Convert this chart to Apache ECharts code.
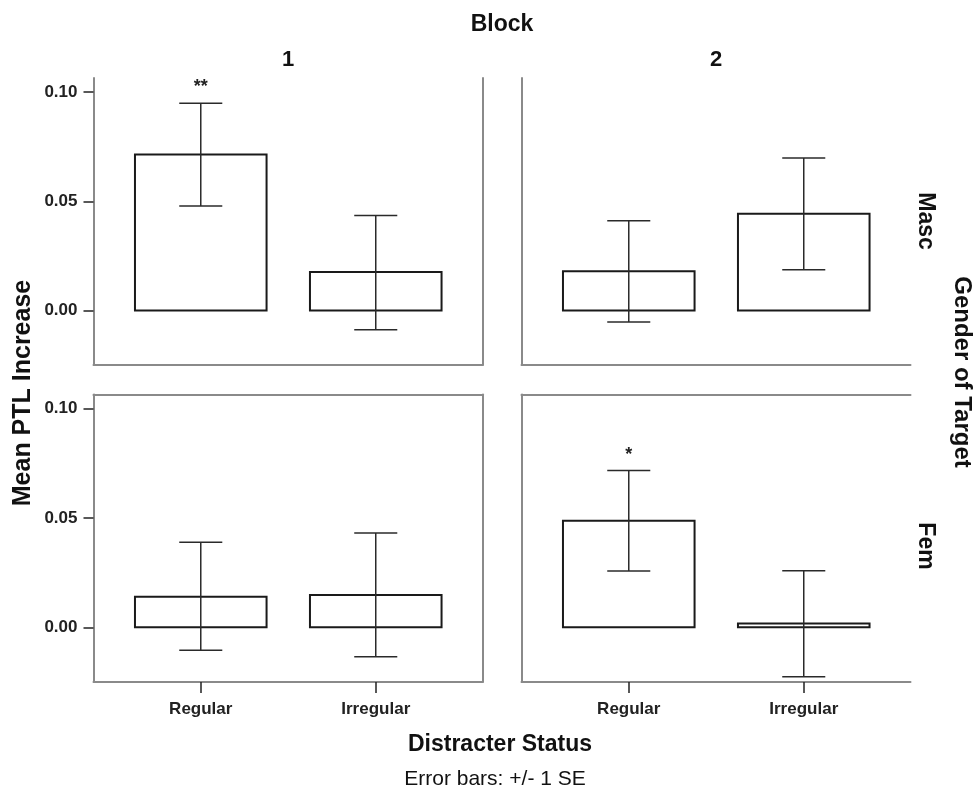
<!DOCTYPE html>
<html>
<head>
<meta charset="utf-8">
<script src="https://cdn.jsdelivr.net/npm/echarts@6/dist/echarts.min.js"></script>
<style>
html,body{margin:0;padding:0;background:#fff;}
#chart{width:977px;height:790px;}
</style>
</head>
<body>
<div id="chart"></div>
<script>
// ---- data ----
const categories = ['Regular', 'Irregular'];
const blocks = ['1', '2'];
const genders = ['Masc', 'Fem'];
const yTicks = [0, 0.05, 0.10];

const meanMascB1 = [0.0714, 0.0176];
const upperMascB1 = [0.0949, 0.0435];
const lowerMascB1 = [0.0478, -0.0088];
const sigMascB1 = ['**', ''];

const meanMascB2 = [0.0179, 0.0443];
const upperMascB2 = [0.0411, 0.0699];
const lowerMascB2 = [-0.0053, 0.0186];
const sigMascB2 = ['', ''];

const meanFemB1 = [0.0140, 0.0148];
const upperFemB1 = [0.0389, 0.0432];
const lowerFemB1 = [-0.0105, -0.0134];
const sigFemB1 = ['', ''];

const meanFemB2 = [0.0487, 0.0018];
const upperFemB2 = [0.0717, 0.0259];
const lowerFemB2 = [0.0258, -0.0226];
const sigFemB2 = ['*', ''];

// ---- layout / style ----
const FONT = "'Liberation Sans', Arial, sans-serif";
const AXIS_GREY = '#8a8a8a';
const X_MIN = -0.613, X_MAX = 1.61;
const Y_MIN = -0.025, Y_MAX = 0.1065;
const BAR_HALF = 0.376, CAP_HALF = 0.123;

const panels = [
  {mean: meanMascB1, up: upperMascB1, lo: lowerMascB1, sig: sigMascB1, grid: {left: 93.5, top: 78, width: 389, height: 287}, yLabels: true, xLabels: false, right: true, top: false},
  {mean: meanMascB2, up: upperMascB2, lo: lowerMascB2, sig: sigMascB2, grid: {left: 521.5, top: 78, width: 389, height: 287}, yLabels: false, xLabels: false, right: false, top: false},
  {mean: meanFemB1, up: upperFemB1, lo: lowerFemB1, sig: sigFemB1, grid: {left: 93.5, top: 394.5, width: 389, height: 287.5}, yLabels: true, xLabels: true, right: true, top: true},
  {mean: meanFemB2, up: upperFemB2, lo: lowerFemB2, sig: sigFemB2, grid: {left: 521.5, top: 394.5, width: 389, height: 287.5}, yLabels: false, xLabels: true, right: false, top: true}
];

const grid = [], xAxis = [], yAxis = [], series = [];
const lineOnly = {onZero: false, lineStyle: {color: AXIS_GREY, width: 2}};

panels.forEach((p, gi) => {
  grid.push(Object.assign({containLabel: false}, p.grid));
  const xi = xAxis.length;
  xAxis.push({
    type: 'value', gridIndex: gi, min: X_MIN, max: X_MAX, position: 'bottom',
    axisLine: {show: true, onZero: false, lineStyle: {color: AXIS_GREY, width: 2}},
    axisTick: {show: p.xLabels, customValues: [0, 1], length: 11, lineStyle: {color: '#222', width: 1.5}},
    axisLabel: {show: p.xLabels, customValues: [0, 1], margin: 19,
      formatter: v => categories[Math.round(v)] || '',
      fontFamily: FONT, fontWeight: 'bold', fontSize: 17, color: '#222'},
    splitLine: {show: false}
  });
  const yi = yAxis.length;
  yAxis.push({
    type: 'value', gridIndex: gi, min: Y_MIN, max: Y_MAX, position: 'left',
    axisLine: {show: true, onZero: false, lineStyle: {color: AXIS_GREY, width: 2}},
    axisTick: {show: p.yLabels, customValues: yTicks, length: 10, lineStyle: {color: '#222', width: 1.5}},
    axisLabel: {show: p.yLabels, customValues: yTicks, margin: 16,
      formatter: v => v.toFixed(2),
      fontFamily: FONT, fontWeight: 'bold', fontSize: 17, color: '#222'},
    splitLine: {show: false}
  });
  if (p.right) {
    yAxis.push({type: 'value', gridIndex: gi, min: Y_MIN, max: Y_MAX, position: 'right',
      axisLine: Object.assign({show: true}, lineOnly), axisTick: {show: false}, axisLabel: {show: false}, splitLine: {show: false}});
  }
  if (p.top) {
    xAxis.push({type: 'value', gridIndex: gi, min: X_MIN, max: X_MAX, position: 'top',
      axisLine: Object.assign({show: true}, lineOnly), axisTick: {show: false}, axisLabel: {show: false}, splitLine: {show: false}});
  }
  const data = categories.map((c, i) => [i, p.mean[i], p.lo[i], p.up[i]]);
  series.push({
    type: 'custom', xAxisIndex: xi, yAxisIndex: yi, data: data, silent: true,
    renderItem: (params, api) => {
      const x = api.value(0), m = api.value(1);
      const a = api.coord([x - BAR_HALF, m]);
      const b = api.coord([x + BAR_HALF, 0]);
      return {type: 'rect', shape: {x: a[0], y: Math.min(a[1], b[1]), width: b[0] - a[0], height: Math.max(1, Math.abs(b[1] - a[1]))},
        style: {fill: '#fff', stroke: '#1a1a1a', lineWidth: 2}};
    }
  });
  series.push({
    type: 'custom', xAxisIndex: xi, yAxisIndex: yi, data: data, silent: true,
    renderItem: (params, api) => {
      const x = api.value(0), lo = api.value(2), up = api.value(3);
      const sig = p.sig[params.dataIndex];
      const t = api.coord([x, up]), bt = api.coord([x, lo]);
      const cl = api.coord([x - CAP_HALF, up]), cr = api.coord([x + CAP_HALF, up]);
      const dl = api.coord([x - CAP_HALF, lo]), dr = api.coord([x + CAP_HALF, lo]);
      const st = {stroke: '#2a2a2a', lineWidth: 1.5};
      const children = [
        {type: 'line', shape: {x1: t[0], y1: t[1], x2: bt[0], y2: bt[1]}, style: st},
        {type: 'line', shape: {x1: cl[0], y1: cl[1], x2: cr[0], y2: cr[1]}, style: st},
        {type: 'line', shape: {x1: dl[0], y1: dl[1], x2: dr[0], y2: dr[1]}, style: st}
      ];
      if (sig) {
        children.push({type: 'text', x: t[0], y: t[1] - 7,
          style: {text: sig, fill: '#222', font: 'bold 18px ' + FONT, textAlign: 'center', textVerticalAlign: 'bottom'}});
      }
      return {type: 'group', children: children};
    }
  });
});

function txt(text, x, y, size, bold, rot) {
  return {type: 'text', x: x, y: y, rotation: rot || 0,
    style: {text: text, fill: '#111', font: (bold ? 'bold ' : '') + size + 'px ' + FONT, textAlign: 'center', textVerticalAlign: 'middle'}};
}

const graphic = [
  txt('Block', 502, 25, 23, true),
  txt(blocks[0], 288, 60, 22, true),
  txt(blocks[1], 716, 60, 22, true),
  txt(genders[0], 925, 221, 23, true, -Math.PI / 2),
  txt(genders[1], 925, 546, 23, true, -Math.PI / 2),
  txt('Gender of Target', 962, 372, 24, true, -Math.PI / 2),
  txt('Mean PTL Increase', 23, 393, 25, true, Math.PI / 2),
  txt('Distracter Status', 500, 745, 23, true),
  txt('Error bars: +/- 1 SE', 495, 779, 21, false)
];

const chart = echarts.init(document.getElementById('chart'), null, {renderer: 'canvas'});
chart.setOption({
  animation: false,
  backgroundColor: '#fff',
  grid: grid, xAxis: xAxis, yAxis: yAxis, series: series, graphic: graphic
});
</script>
</body>
</html>
